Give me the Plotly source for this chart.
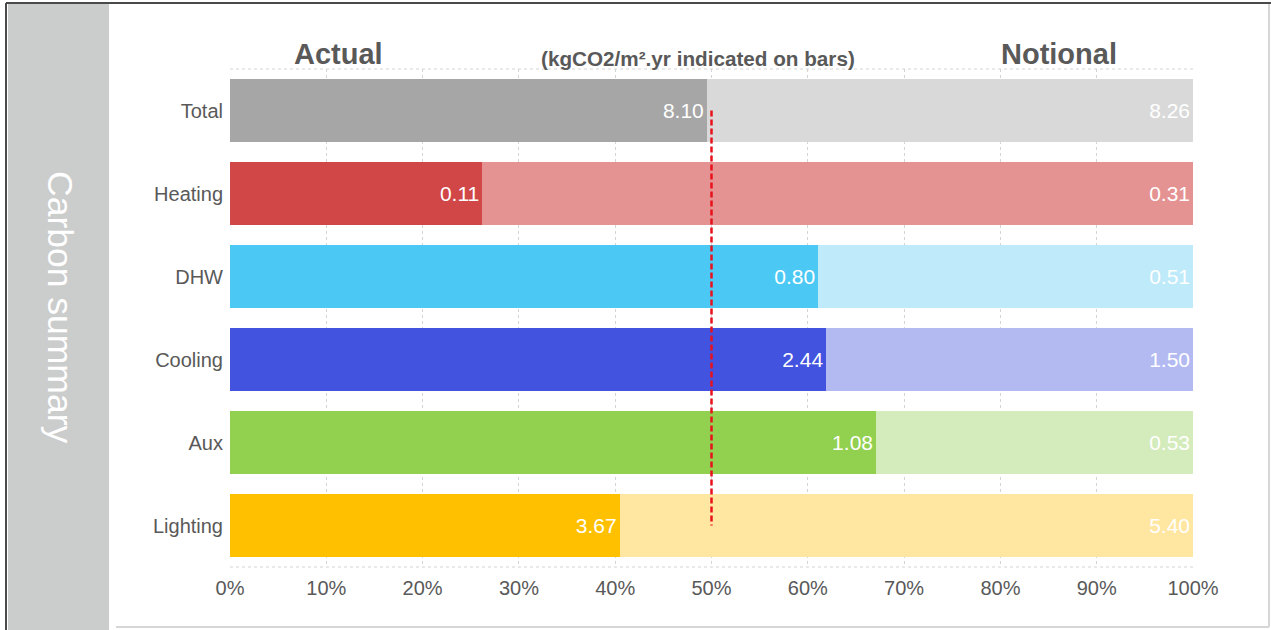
import plotly.graph_objects as go

categories = ["Total", "Heating", "DHW", "Cooling", "Aux", "Lighting"]
actual = [8.10, 0.11, 0.80, 2.44, 1.08, 3.67]
notional = [8.26, 0.31, 0.51, 1.50, 0.53, 5.40]
actual_colors = ["#A6A6A6", "#D14646", "#4BC8F4", "#4253E0", "#92D050", "#FFC000"]
notional_colors = ["#D9D9D9", "#E49292", "#BEEAFA", "#B3BAF2", "#D4EBBB", "#FFE6A1"]
x_ticks = [0, 10, 20, 30, 40, 50, 60, 70, 80, 90, 100]

W, H = 1271, 630
FONT = "Liberation Sans, Arial, sans-serif"
TXT = "#595959"

def px(x):
    return x / W

def py(y):
    return 1 - y / H

fig = go.Figure()
fig.add_trace(go.Bar(
    y=categories, x=actual, orientation="h", name="Actual",
    marker=dict(color=actual_colors, line=dict(width=0)),
    text=[f"{v:.2f}" for v in actual], textposition="inside",
    insidetextanchor="end", constraintext="none",
    textfont=dict(color="white", size=21, family=FONT),
    hoverinfo="skip",
))
fig.add_trace(go.Bar(
    y=categories, x=notional, orientation="h", name="Notional",
    marker=dict(color=notional_colors, line=dict(width=0)),
    text=[f"{v:.2f}" for v in notional], textposition="inside",
    insidetextanchor="end", constraintext="none",
    textfont=dict(color="white", size=21, family=FONT),
    hoverinfo="skip",
))

fig.update_layout(
    width=W, height=H, autosize=False,
    margin=dict(l=0, r=0, t=0, b=0, pad=0, autoexpand=False),
    paper_bgcolor="white", plot_bgcolor="white",
    barmode="stack", barnorm="percent", bargap=0.25,
    showlegend=False,
    font=dict(family=FONT, color=TXT, size=20),
    xaxis=dict(
        domain=[px(230), px(1193)], range=[0, 100],
        tickvals=x_ticks, ticktext=[f"{t}%" for t in x_ticks],
        showgrid=True, gridcolor="#D4D4D4", griddash="dot", gridwidth=1,
        zeroline=False, showline=False, ticks="",
        ticklabelstandoff=7, automargin=False,
        tickfont=dict(size=20, color=TXT, family=FONT),
        fixedrange=True,
    ),
    yaxis=dict(
        domain=[py(567), py(69)],
        categoryorder="array", categoryarray=categories,
        autorange="reversed",
        showgrid=False, zeroline=False, showline=False, ticks="",
        ticklabelstandoff=6, automargin=False,
        tickfont=dict(size=20, color=TXT, family=FONT),
        fixedrange=True,
    ),
)

shapes = [
    # left grey panel
    dict(type="rect", xref="paper", yref="paper", x0=px(8), x1=px(109),
         y0=0, y1=py(4), fillcolor="#CBCCCC", line=dict(width=0), layer="below"),
    # frame
    dict(type="line", xref="paper", yref="paper", x0=px(6), x1=1, y0=py(3), y1=py(3),
         line=dict(color="#4A4A4A", width=2)),
    dict(type="line", xref="paper", yref="paper", x0=px(6), x1=px(6), y0=0, y1=py(3),
         line=dict(color="#4A4A4A", width=2)),
    dict(type="line", xref="paper", yref="paper", x0=px(1269), x1=px(1269), y0=py(627), y1=py(4),
         line=dict(color="#D6D6D6", width=2)),
    dict(type="line", xref="paper", yref="paper", x0=px(116), x1=px(1269), y0=py(627), y1=py(627),
         line=dict(color="#D6D6D6", width=2)),
    # dotted top/bottom plot borders
    dict(type="line", xref="x", yref="y domain", x0=0, x1=100, y0=1, y1=1,
         line=dict(color="#D4D4D4", width=1, dash="dot"), layer="below"),
    dict(type="line", xref="x", yref="y domain", x0=0, x1=100, y0=0, y1=0,
         line=dict(color="#D4D4D4", width=1, dash="dot"), layer="below"),
    # 50% reference line
    dict(type="line", xref="x", yref="y", x0=50, x1=50, y0=0, y1=5,
         line=dict(color="#E8121C", width=2.5, dash="6px,3px"), layer="above"),
]
fig.update_layout(shapes=shapes)

annotations = [
    dict(text="<b>Actual</b>", x=px(338), y=py(54), xref="paper", yref="paper",
         showarrow=False, xanchor="center", yanchor="middle",
         font=dict(size=29, color=TXT, family=FONT)),
    dict(text="<b>(kgCO2/m².yr indicated on bars)</b>", x=px(698), y=py(58), xref="paper", yref="paper",
         showarrow=False, xanchor="center", yanchor="middle",
         font=dict(size=20.7, color=TXT, family=FONT)),
    dict(text="<b>Notional</b>", x=px(1059), y=py(54), xref="paper", yref="paper",
         showarrow=False, xanchor="center", yanchor="middle",
         font=dict(size=29, color=TXT, family=FONT)),
    dict(text="Carbon summary", x=px(60), y=py(307), xref="paper", yref="paper",
         showarrow=False, xanchor="center", yanchor="middle", textangle=90,
         font=dict(size=35.5, color="white", family=FONT)),
]
fig.update_layout(annotations=annotations)

fig.write_html("out.html", config={"displayModeBar": False})
